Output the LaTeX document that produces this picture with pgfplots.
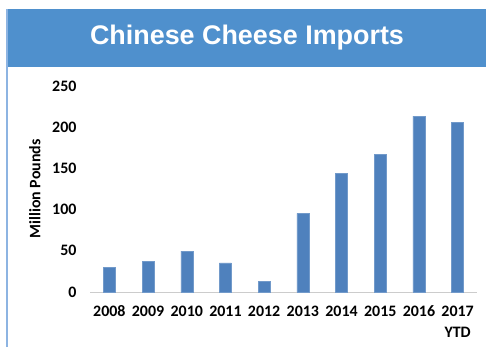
\documentclass[border=0pt]{standalone}
\usepackage{fontspec}
\setmainfont{Carlito}[Numbers=Lining]
\newfontfamily\titlefont{Liberation Sans}
\usepackage{pgfplots}
\pgfplotsset{compat=1.18}
\definecolor{banner}{HTML}{4F90CD}
\definecolor{leftline}{HTML}{8DB4E2}
\definecolor{barblue}{HTML}{4F81BD}
\pgfplotstableread{
x val
0 30
1 37
2 49.5
3 35.5
4 13
5 95.5
6 144
7 167
8 213.5
9 205.5
}\imports
\begin{document}
\begin{tikzpicture}[x=1bp,y=1bp]
\path[use as bounding box] (0,0) rectangle (486,347);
\fill[banner] (7,280) rectangle (486,338);
\draw[leftline, line width=1.5bp] (7,0) -- (7,338);
\node[text=white, font=\titlefont\bfseries\fontsize{27}{30}\selectfont] at (247,309) {Chinese Cheese Imports};
\begin{axis}[
  at={(90bp,55bp)}, anchor=south west,
  scale only axis, width=387bp, height=206bp,
  xmin=-0.5, xmax=9.5, ymin=0, ymax=250,
  axis x line*=bottom, axis y line*=left,
  x axis line style={draw=black!20, line width=0.8bp, -},
  y axis line style={draw=none},
  major tick length=0pt,
  xtick=data,
  xticklabels={2008,2009,2010,2011,2012,2013,2014,2015,2016,{\begin{tabular}[t]{@{}c@{}}2017\\YTD\end{tabular}}},
  ytick={0,50,100,150,200,250},
  tick label style={font=\bfseries\fontsize{16}{21.7}\selectfont},
  xticklabel style={anchor=base, yshift=-24bp},
  yticklabel style={anchor=east, xshift=-10bp},
  /pgf/number format/assume math mode=true,
  ylabel={Million Pounds},
  ylabel shift=5bp,
  ylabel style={font=\bfseries\fontsize{16}{18}\selectfont},
  ybar, bar width=12bp,
]
\addplot[fill=barblue, draw=barblue!80!white] table[x=x, y=val] {\imports};
\end{axis}
\end{tikzpicture}
\end{document}
